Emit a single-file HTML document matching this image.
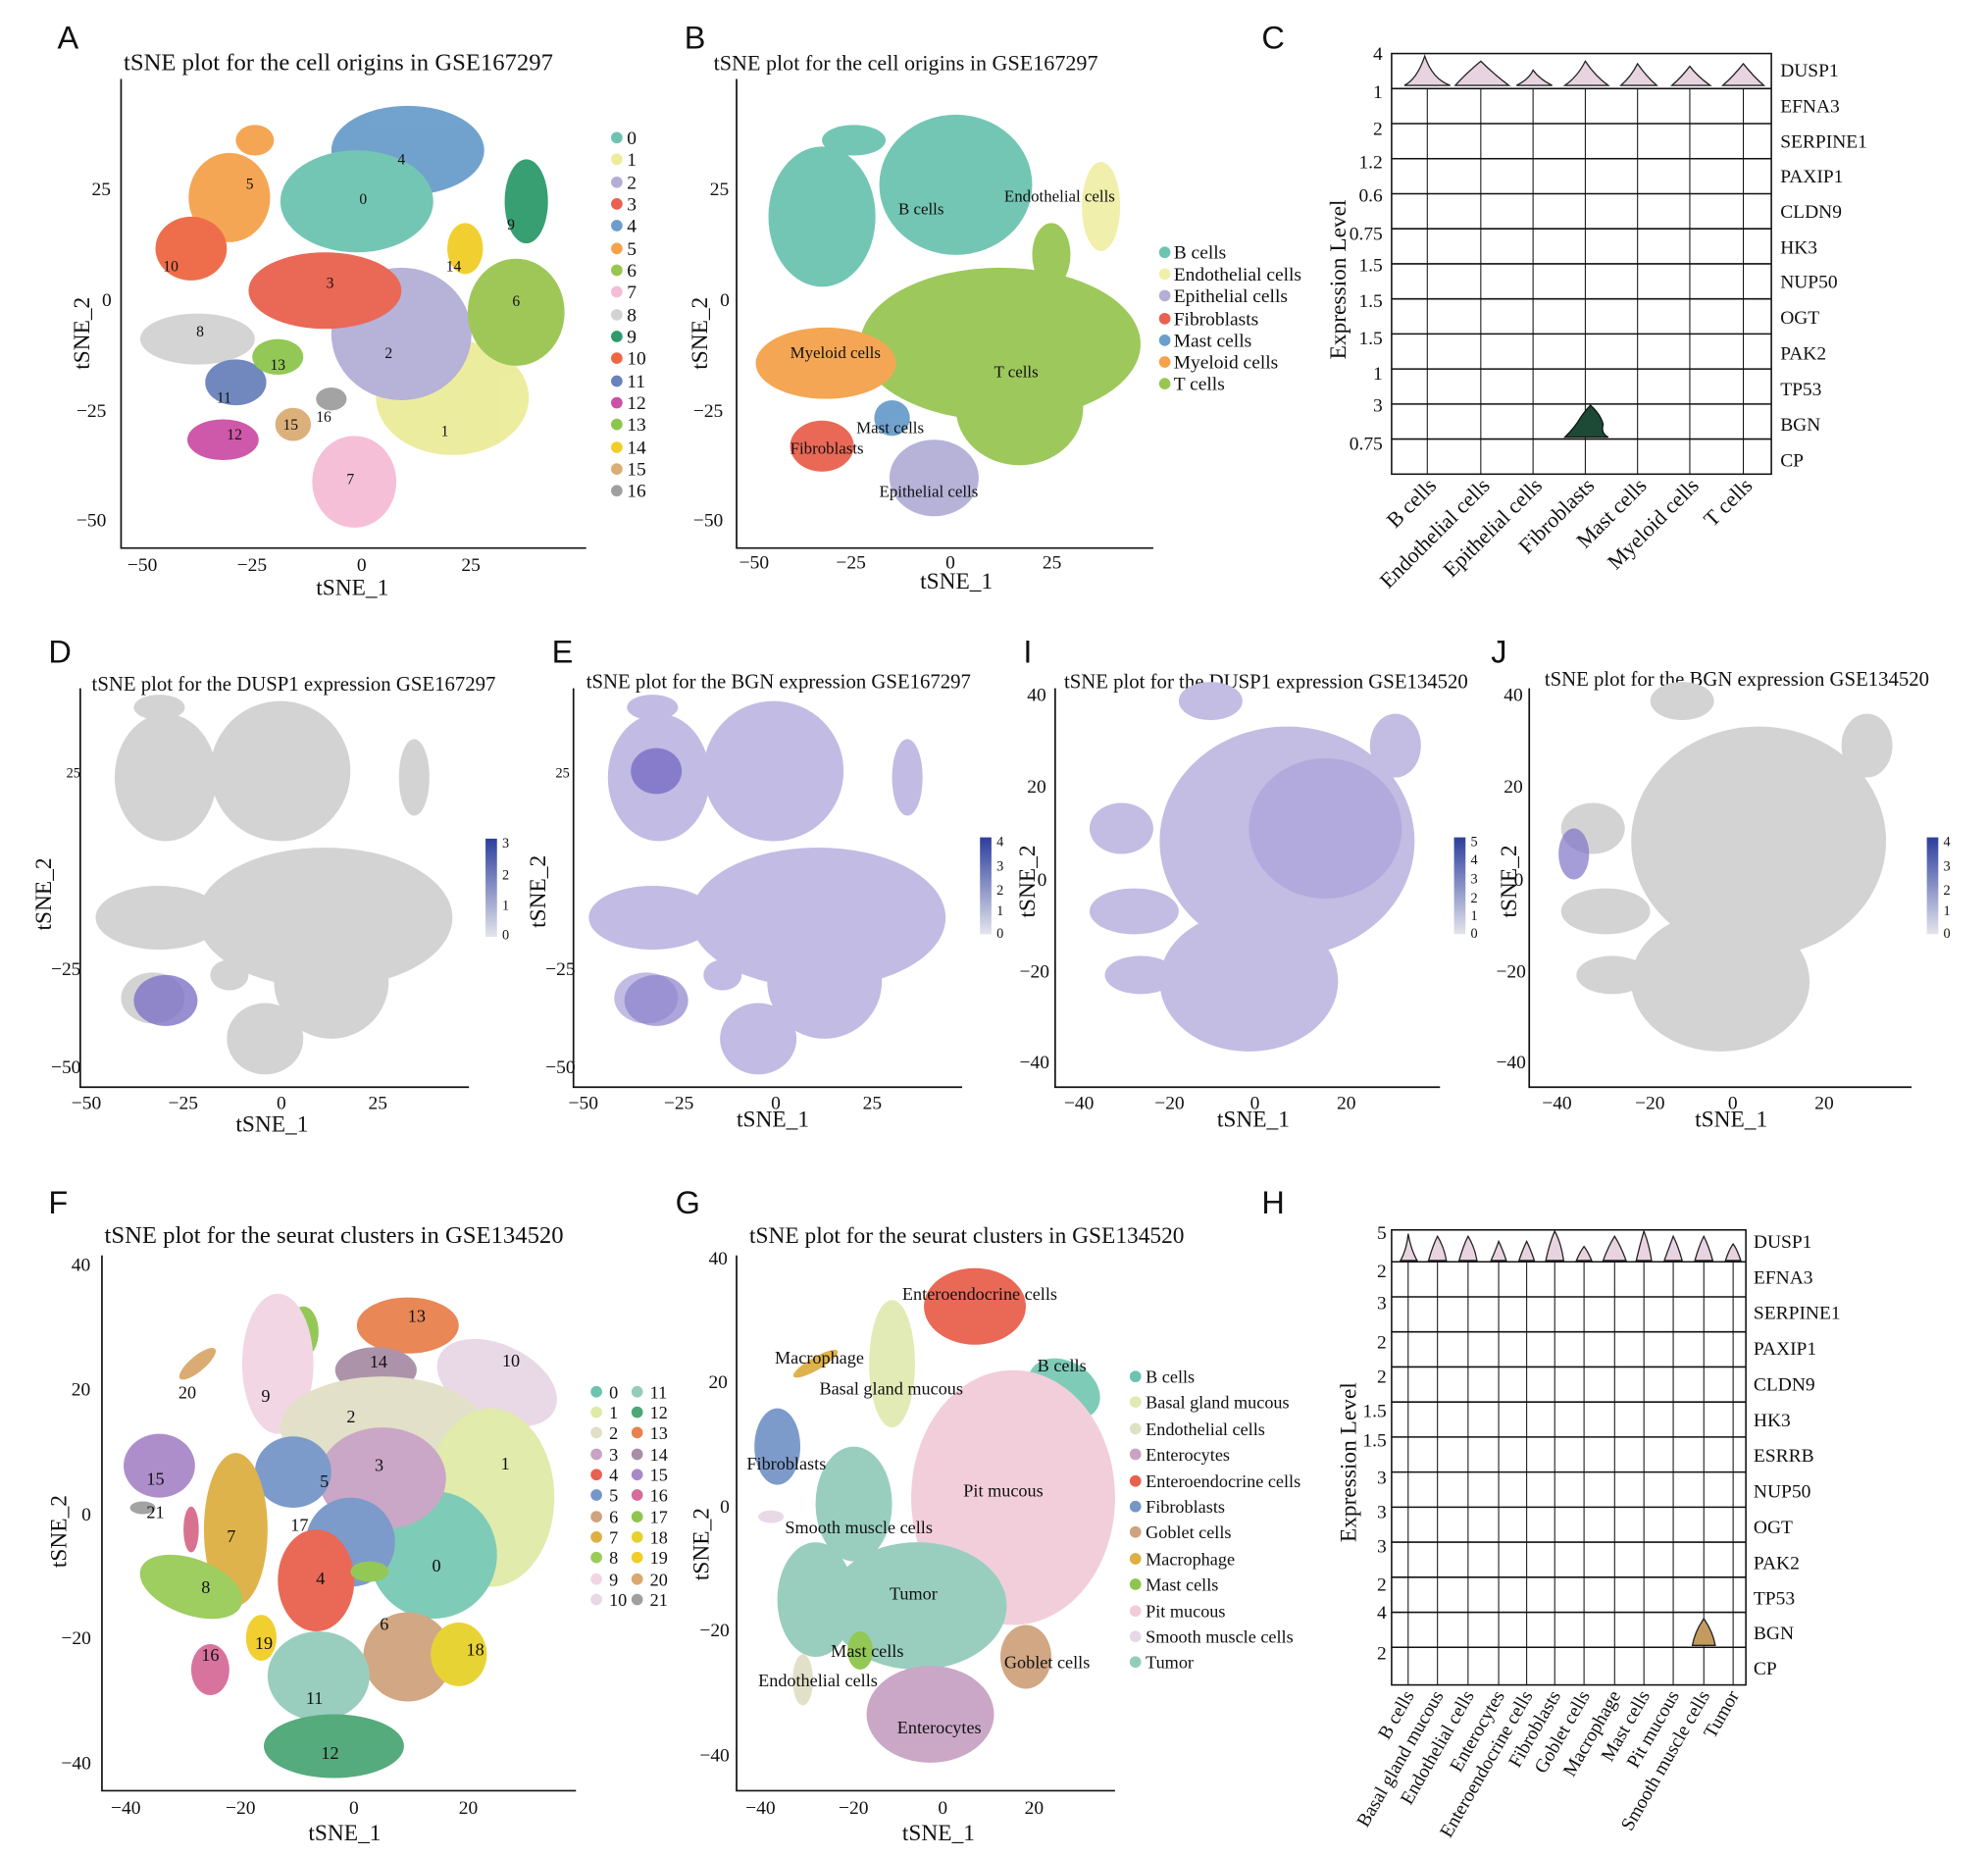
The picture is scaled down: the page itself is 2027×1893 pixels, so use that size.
<!DOCTYPE html>
<html><head><meta charset="utf-8"><style>
html,body{margin:0;padding:0;background:#fff}
svg{display:block}
text{font-family:"Liberation Serif",serif;fill:#111}
.t{font-size:19px}
.tk{font-size:15px}
.ax{font-size:18px}
.lg{font-size:15px}
.pl{font-family:"Liberation Sans",sans-serif;font-size:25px;fill:#111}
.n{font-family:"Liberation Sans",sans-serif;font-size:12px}
</style></head><body>
<svg width="2027" height="1893" viewBox="0 0 1560 1457" preserveAspectRatio="none" xmlns="http://www.w3.org/2000/svg">
<rect width="1560" height="1457" fill="#fff"/>
<g stroke="#111" fill="none" stroke-width="1.3">
<path d="M95 62V430H460"/><path d="M578 62V430H905"/>
<path d="M63 540V853H368"/><path d="M450 540V853H755"/><path d="M828 540V853H1130"/><path d="M1200 540V853H1500"/>
<path d="M80 985V1405H452"/><path d="M578 985V1405H875"/>
</g>
<text class="pl" x="45" y="38">A</text><text class="pl" x="537" y="38">B</text><text class="pl" x="990" y="38">C</text>
<text class="pl" x="38" y="520">D</text><text class="pl" x="433" y="520">E</text><text class="pl" x="803" y="520">I</text><text class="pl" x="1170" y="520">J</text>
<text class="pl" x="38" y="952">F</text><text class="pl" x="530" y="952">G</text><text class="pl" x="990" y="952">H</text>
<text class="t" x="97" y="55">tSNE plot for the cell origins in GSE167297</text>
<text class="t" x="560" y="55" style="font-size:17px">tSNE plot for the cell origins in GSE167297</text>
<text class="t" x="72" y="542" style="font-size:16px">tSNE plot for the DUSP1 expression GSE167297</text>
<text class="t" x="460" y="540" style="font-size:16px">tSNE plot for the BGN expression GSE167297</text>
<text class="t" x="835" y="540" style="font-size:16px">tSNE plot for the DUSP1 expression GSE134520</text>
<text class="t" x="1212" y="538" style="font-size:16px">tSNE plot for the BGN expression GSE134520</text>
<text class="t" x="82" y="975">tSNE plot for the seurat clusters in GSE134520</text>
<text class="t" x="588" y="975" style="font-size:18px">tSNE plot for the seurat clusters in GSE134520</text>

<!-- A -->
<g opacity="0.95">
<ellipse cx="320" cy="118" rx="60" ry="35" fill="#6a9ecc"/>
<ellipse cx="280" cy="158" rx="60" ry="40" fill="#6cc3b0"/>
<ellipse cx="355" cy="312" rx="60" ry="45" fill="#ecec9a"/>
<ellipse cx="315" cy="262" rx="55" ry="52" fill="#b3aed6"/>
<ellipse cx="255" cy="228" rx="60" ry="30" fill="#e9604e"/>
<ellipse cx="180" cy="155" rx="32" ry="35" fill="#f5a24b"/>
<ellipse cx="200" cy="110" rx="15" ry="12" fill="#f5a24b"/>
<ellipse cx="150" cy="195" rx="28" ry="25" fill="#ee6743"/>
<ellipse cx="405" cy="245" rx="38" ry="42" fill="#9ac54f"/>
<ellipse cx="413" cy="158" rx="17" ry="33" fill="#2d9a6c"/>
<ellipse cx="278" cy="378" rx="33" ry="36" fill="#f5bcd6"/>
<ellipse cx="155" cy="266" rx="45" ry="20" fill="#d2d2d2"/>
<ellipse cx="185" cy="300" rx="24" ry="18" fill="#6a82bb"/>
<ellipse cx="175" cy="345" rx="28" ry="16" fill="#cc50a5"/>
<ellipse cx="218" cy="280" rx="20" ry="14" fill="#8ec64d"/>
<ellipse cx="365" cy="195" rx="14" ry="20" fill="#f1cd25"/>
<ellipse cx="230" cy="333" rx="14" ry="13" fill="#dbac73"/>
<ellipse cx="260" cy="313" rx="12" ry="9" fill="#9f9f9f"/>
</g>
<g class="n"><text x="312" y="129">4</text><text x="282" y="160">0</text><text x="193" y="148">5</text><text x="128" y="213">10</text><text x="398" y="180">9</text><text x="350" y="213">14</text><text x="402" y="240">6</text><text x="256" y="226">3</text><text x="302" y="281">2</text><text x="154" y="264">8</text><text x="212" y="290">13</text><text x="170" y="316">11</text><text x="178" y="345">12</text><text x="222" y="337">15</text><text x="248" y="331">16</text><text x="346" y="342">1</text><text x="272" y="380">7</text></g>
<g class="tk"><text x="100" y="448">−50</text><text x="186" y="448">−25</text><text x="280" y="448">0</text><text x="362" y="448">25</text>
<text x="72" y="153">25</text><text x="80" y="240">0</text><text x="60" y="327">−25</text><text x="60" y="413">−50</text></g>
<text class="ax" x="248" y="467">tSNE_1</text>
<text class="ax" transform="translate(70,290) rotate(-90)">tSNE_2</text>
<g class="lg">
<g fill="#6cc3b0"><circle cx="484" cy="108" r="4.5"/></g><text x="492" y="113">0</text>
<circle cx="484" cy="125" r="4.5" fill="#ecec9a"/><text x="492" y="130">1</text>
<circle cx="484" cy="143" r="4.5" fill="#b3aed6"/><text x="492" y="148">2</text>
<circle cx="484" cy="160" r="4.5" fill="#e9604e"/><text x="492" y="165">3</text>
<circle cx="484" cy="177" r="4.5" fill="#6a9ecc"/><text x="492" y="182">4</text>
<circle cx="484" cy="195" r="4.5" fill="#f5a24b"/><text x="492" y="200">5</text>
<circle cx="484" cy="212" r="4.5" fill="#9ac54f"/><text x="492" y="217">6</text>
<circle cx="484" cy="229" r="4.5" fill="#f5bcd6"/><text x="492" y="234">7</text>
<circle cx="484" cy="247" r="4.5" fill="#d2d2d2"/><text x="492" y="252">8</text>
<circle cx="484" cy="264" r="4.5" fill="#2d9a6c"/><text x="492" y="269">9</text>
<circle cx="484" cy="281" r="4.5" fill="#ee6743"/><text x="492" y="286">10</text>
<circle cx="484" cy="299" r="4.5" fill="#6a82bb"/><text x="492" y="304">11</text>
<circle cx="484" cy="316" r="4.5" fill="#cc50a5"/><text x="492" y="321">12</text>
<circle cx="484" cy="333" r="4.5" fill="#8ec64d"/><text x="492" y="338">13</text>
<circle cx="484" cy="351" r="4.5" fill="#f1cd25"/><text x="492" y="356">14</text>
<circle cx="484" cy="368" r="4.5" fill="#dbac73"/><text x="492" y="373">15</text>
<circle cx="484" cy="385" r="4.5" fill="#9f9f9f"/><text x="492" y="390">16</text>
</g>

<!-- B -->
<g opacity="0.95">
<ellipse cx="750" cy="145" rx="60" ry="55" fill="#6cc3b0"/>
<ellipse cx="645" cy="170" rx="42" ry="55" fill="#6cc3b0"/>
<ellipse cx="670" cy="110" rx="25" ry="12" fill="#6cc3b0"/>
<ellipse cx="864" cy="162" rx="15" ry="35" fill="#f0f0a8"/>
<ellipse cx="785" cy="270" rx="110" ry="60" fill="#98c653"/>
<ellipse cx="800" cy="320" rx="50" ry="45" fill="#98c653"/>
<ellipse cx="825" cy="200" rx="15" ry="25" fill="#98c653"/>
<ellipse cx="648" cy="285" rx="55" ry="28" fill="#f5a24b"/>
<ellipse cx="645" cy="350" rx="25" ry="20" fill="#e9604e"/>
<ellipse cx="700" cy="328" rx="14" ry="14" fill="#6a9ecc"/>
<ellipse cx="733" cy="375" rx="35" ry="30" fill="#b3aed6"/>
</g>
<g style="font-size:13px"><text x="705" y="168">B cells</text><text x="788" y="158">Endothelial cells</text><text x="620" y="281">Myeloid cells</text><text x="780" y="296">T cells</text><text x="672" y="340">Mast cells</text><text x="620" y="356">Fibroblasts</text><text x="690" y="390">Epithelial cells</text></g>
<g class="tk"><text x="580" y="446">−50</text><text x="656" y="446">−25</text><text x="742" y="446">0</text><text x="818" y="446">25</text>
<text x="557" y="153">25</text><text x="565" y="240">0</text><text x="544" y="327">−25</text><text x="544" y="413">−50</text></g>
<text class="ax" x="722" y="462">tSNE_1</text>
<text class="ax" transform="translate(555,290) rotate(-90)">tSNE_2</text>
<g class="lg">
<circle cx="914" cy="198" r="4.5" fill="#6cc3b0"/><text x="921" y="203">B cells</text>
<circle cx="914" cy="215" r="4.5" fill="#f0f0a8"/><text x="921" y="220">Endothelial cells</text>
<circle cx="914" cy="232" r="4.5" fill="#b3aed6"/><text x="921" y="237">Epithelial cells</text>
<circle cx="914" cy="250" r="4.5" fill="#e9604e"/><text x="921" y="255">Fibroblasts</text>
<circle cx="914" cy="267" r="4.5" fill="#6a9ecc"/><text x="921" y="272">Mast cells</text>
<circle cx="914" cy="284" r="4.5" fill="#f5a24b"/><text x="921" y="289">Myeloid cells</text>
<circle cx="914" cy="301" r="4.5" fill="#98c653"/><text x="921" y="306">T cells</text>
</g>

<!-- C -->
<g stroke="#111" fill="none" stroke-width="1.2">
<rect x="1092" y="42" width="298" height="330"/>
<path d="M1092 69.5H1390M1092 97H1390M1092 124.5H1390M1092 152H1390M1092 179.5H1390M1092 207H1390M1092 234.5H1390M1092 262H1390M1092 289.5H1390M1092 317H1390M1092 344.5H1390"/>
<path d="M1120 69V372M1162 69V372M1203 69V372M1244 69V372M1285 69V372M1326 69V372M1368 69V372" stroke-width="0.8"/>
</g>
<g fill="#e8d4e0" stroke="#222" stroke-width="1">
<path d="M1102 67Q1112 62 1118 44Q1124 62 1138 67Z"/><path d="M1142 67Q1150 58 1162 48Q1172 58 1184 67Z"/><path d="M1190 67Q1200 62 1203 55Q1208 62 1218 67Z"/><path d="M1228 67Q1238 60 1244 48Q1252 60 1262 67Z"/><path d="M1272 67Q1280 60 1285 50Q1292 60 1300 67Z"/><path d="M1312 67Q1320 60 1326 52Q1332 60 1342 67Z"/><path d="M1352 67Q1360 60 1368 50Q1376 60 1384 67Z"/>
</g>
<path d="M1228 343Q1236 335 1240 328Q1244 322 1248 318Q1256 325 1258 333Q1256 340 1262 343Z" fill="#1c4a36" stroke="#111"/>
<g style="font-size:15px">
<text x="1397" y="60">DUSP1</text><text x="1397" y="88">EFNA3</text><text x="1397" y="116">SERPINE1</text><text x="1397" y="143">PAXIP1</text><text x="1397" y="171">CLDN9</text><text x="1397" y="199">HK3</text><text x="1397" y="226">NUP50</text><text x="1397" y="254">OGT</text><text x="1397" y="282">PAK2</text><text x="1397" y="310">TP53</text><text x="1397" y="338">BGN</text><text x="1397" y="366">CP</text>
</g>
<g class="tk" text-anchor="end">
<text x="1085" y="47">4</text><text x="1085" y="77">1</text><text x="1085" y="106">2</text><text x="1085" y="132">1.2</text><text x="1085" y="158">0.6</text><text x="1085" y="188">0.75</text><text x="1085" y="213">1.5</text><text x="1085" y="241">1.5</text><text x="1085" y="270">1.5</text><text x="1085" y="298">1</text><text x="1085" y="323">3</text><text x="1085" y="353">0.75</text>
</g>
<text class="ax" transform="translate(1056,282) rotate(-90)">Expression Level</text>
<g style="font-size:17px" text-anchor="end">
<text transform="translate(1128,382) rotate(-45)">B cells</text>
<text transform="translate(1170,382) rotate(-45)">Endothelial cells</text>
<text transform="translate(1211,382) rotate(-45)">Epithelial cells</text>
<text transform="translate(1252,382) rotate(-45)">Fibroblasts</text>
<text transform="translate(1293,382) rotate(-45)">Mast cells</text>
<text transform="translate(1334,382) rotate(-45)">Myeloid cells</text>
<text transform="translate(1376,382) rotate(-45)">T cells</text>
</g>

<!-- D / E gray-style blobs shapes -->
<defs>
<g id="s1">
<ellipse cx="0" cy="-60" rx="55" ry="55"/><ellipse cx="-90" cy="-55" rx="40" ry="50"/><ellipse cx="-95" cy="-110" rx="20" ry="10"/>
<ellipse cx="105" cy="-55" rx="12" ry="30"/><ellipse cx="35" cy="55" rx="100" ry="55"/><ellipse cx="40" cy="105" rx="45" ry="45"/>
<ellipse cx="-95" cy="55" rx="50" ry="25"/><ellipse cx="-100" cy="118" rx="25" ry="20"/><ellipse cx="-40" cy="100" rx="15" ry="12"/><ellipse cx="-12" cy="150" rx="30" ry="28"/>
</g>
<g id="s2">
<ellipse cx="20" cy="-20" rx="100" ry="90"/><ellipse cx="-10" cy="90" rx="70" ry="55"/><ellipse cx="-110" cy="-30" rx="25" ry="20"/>
<ellipse cx="-100" cy="35" rx="35" ry="18"/><ellipse cx="-95" cy="85" rx="28" ry="15"/><ellipse cx="-40" cy="-130" rx="25" ry="15"/><ellipse cx="105" cy="-95" rx="20" ry="25"/>
</g>
</defs>
<g fill="#d3d3d3"><use href="#s1" x="220" y="665"/></g>
<ellipse cx="130" cy="785" rx="25" ry="20" fill="#7d73c7" opacity="0.8"/>
<g fill="#c2bbe3"><use href="#s1" x="607" y="665"/></g>
<ellipse cx="515" cy="605" rx="20" ry="18" fill="#6d61c0" opacity="0.7"/><ellipse cx="515" cy="785" rx="25" ry="20" fill="#8a80cc" opacity="0.7"/>
<g fill="#c3bce3"><use href="#s2" x="990" y="680"/></g>
<ellipse cx="1040" cy="650" rx="60" ry="55" fill="#aba2da" opacity="0.7"/>
<g fill="#d3d3d3"><use href="#s2" x="1360" y="680"/></g>
<ellipse cx="1235" cy="670" rx="12" ry="20" fill="#7d73c7" opacity="0.7"/>
<g class="tk">
<text x="56" y="870">−50</text><text x="132" y="870">−25</text><text x="217" y="870">0</text><text x="289" y="870">25</text>
<text x="40" y="765">−25</text><text x="40" y="842">−50</text><text x="52" y="610" style="font-size:11px">25</text>
<text x="446" y="870">−50</text><text x="521" y="870">−25</text><text x="605" y="870">0</text><text x="677" y="870">25</text>
<text x="428" y="765">−25</text><text x="428" y="842">−50</text><text x="436" y="610" style="font-size:11px">25</text>
<text x="835" y="870">−40</text><text x="906" y="870">−20</text><text x="981" y="870">0</text><text x="1049" y="870">20</text>
<text x="806" y="550">40</text><text x="806" y="622">20</text><text x="814" y="695">0</text><text x="800" y="767">−20</text><text x="800" y="838">−40</text>
<text x="1210" y="870">−40</text><text x="1283" y="870">−20</text><text x="1356" y="870">0</text><text x="1424" y="870">20</text>
<text x="1180" y="550">40</text><text x="1180" y="622">20</text><text x="1188" y="695">0</text><text x="1174" y="767">−20</text><text x="1174" y="838">−40</text>
</g>
<text class="ax" x="185" y="888">tSNE_1</text><text class="ax" x="578" y="884">tSNE_1</text><text class="ax" x="955" y="884">tSNE_1</text><text class="ax" x="1330" y="884">tSNE_1</text>
<text class="ax" transform="translate(40,730) rotate(-90)">tSNE_2</text><text class="ax" transform="translate(428,728) rotate(-90)">tSNE_2</text>
<text class="ax" transform="translate(812,720) rotate(-90)">tSNE_2</text><text class="ax" transform="translate(1190,720) rotate(-90)">tSNE_2</text>
<defs><linearGradient id="cb" x1="0" y1="1" x2="0" y2="0"><stop offset="0" stop-color="#e4e4ec"/><stop offset="1" stop-color="#2c3e9e"/></linearGradient></defs>
<rect x="381" y="658" width="9" height="77" fill="url(#cb)"/><rect x="769" y="657" width="9" height="76" fill="url(#cb)"/><rect x="1141" y="657" width="9" height="76" fill="url(#cb)"/><rect x="1512" y="657" width="9" height="76" fill="url(#cb)"/>
<g style="font-size:11px">
<text x="394" y="665">3</text><text x="394" y="690">2</text><text x="394" y="714">1</text><text x="394" y="737">0</text>
<text x="782" y="664">4</text><text x="782" y="683">3</text><text x="782" y="702">2</text><text x="782" y="718">1</text><text x="782" y="736">0</text>
<text x="1154" y="664">5</text><text x="1154" y="678">4</text><text x="1154" y="693">3</text><text x="1154" y="708">2</text><text x="1154" y="722">1</text><text x="1154" y="736">0</text>
<text x="1525" y="664">4</text><text x="1525" y="683">3</text><text x="1525" y="702">2</text><text x="1525" y="718">1</text><text x="1525" y="736">0</text>
</g>

<!-- F -->
<g opacity="0.95">
<ellipse cx="320" cy="1040" rx="40" ry="22" fill="#e8814e"/>
<ellipse cx="295" cy="1075" rx="32" ry="18" fill="#a98ea6"/>
<ellipse cx="238" cy="1045" rx="12" ry="20" fill="#8ec64d"/>
<ellipse cx="390" cy="1085" rx="50" ry="30" fill="#e8d8e6" transform="rotate(25 390 1085)"/>
<ellipse cx="218" cy="1070" rx="28" ry="55" fill="#f2d4e2"/>
<ellipse cx="300" cy="1120" rx="80" ry="40" fill="#e1dfc6"/>
<ellipse cx="385" cy="1175" rx="50" ry="70" fill="#dfeaa8"/>
<ellipse cx="340" cy="1220" rx="50" ry="50" fill="#78c9b5"/>
<ellipse cx="300" cy="1160" rx="50" ry="40" fill="#c8a3c3"/>
<ellipse cx="275" cy="1210" rx="35" ry="35" fill="#7796c8"/>
<ellipse cx="230" cy="1155" rx="30" ry="28" fill="#7796c8"/>
<ellipse cx="185" cy="1200" rx="25" ry="60" fill="#deaf42"/>
<ellipse cx="248" cy="1240" rx="30" ry="40" fill="#e9604e"/>
<ellipse cx="320" cy="1300" rx="35" ry="35" fill="#cfa37e"/>
<ellipse cx="250" cy="1315" rx="40" ry="35" fill="#94ccbc"/>
<ellipse cx="262" cy="1370" rx="55" ry="25" fill="#4ca776"/>
<ellipse cx="360" cy="1298" rx="22" ry="25" fill="#e7d12a"/>
<ellipse cx="150" cy="1245" rx="42" ry="22" fill="#99cb58" transform="rotate(20 150 1245)"/>
<ellipse cx="205" cy="1285" rx="12" ry="18" fill="#f1cd25"/>
<ellipse cx="165" cy="1310" rx="15" ry="20" fill="#d66c99"/>
<ellipse cx="125" cy="1150" rx="28" ry="25" fill="#a988c9"/>
<ellipse cx="155" cy="1070" rx="18" ry="6" fill="#d9a86c" transform="rotate(-40 155 1070)"/>
<ellipse cx="112" cy="1183" rx="10" ry="5" fill="#9f9f9f"/>
<ellipse cx="150" cy="1200" rx="6" ry="18" fill="#d86a8c"/>
<ellipse cx="290" cy="1233" rx="15" ry="8" fill="#8ec64d"/>
</g>
<g class="n" style="font-size:14px"><text x="320" y="1037">13</text><text x="290" y="1073">14</text><text x="394" y="1072">10</text><text x="205" y="1100">9</text><text x="140" y="1097">20</text><text x="272" y="1116">2</text><text x="294" y="1154">3</text><text x="251" y="1167">5</text><text x="393" y="1153">1</text><text x="115" y="1165">15</text><text x="115" y="1191">21</text><text x="228" y="1201">17</text><text x="178" y="1210">7</text><text x="339" y="1233">0</text><text x="248" y="1243">4</text><text x="158" y="1250">8</text><text x="298" y="1279">6</text><text x="200" y="1294">19</text><text x="366" y="1299">18</text><text x="158" y="1303">16</text><text x="240" y="1337">11</text><text x="252" y="1380">12</text></g>
<g class="tk">
<text x="87" y="1423">−40</text><text x="177" y="1423">−20</text><text x="274" y="1423">0</text><text x="360" y="1423">20</text>
<text x="56" y="997">40</text><text x="56" y="1095">20</text><text x="64" y="1193">0</text><text x="48" y="1290">−20</text><text x="48" y="1388">−40</text>
</g>
<text class="ax" x="242" y="1444">tSNE_1</text><text class="ax" transform="translate(52,1230) rotate(-90)">tSNE_2</text>
<g class="lg" style="font-size:14px">
<circle cx="468" cy="1092" r="4.5" fill="#6cc3b0"/><text x="478" y="1097">0</text>
<circle cx="468" cy="1108" r="4.5" fill="#dfeaa8"/><text x="478" y="1113">1</text>
<circle cx="468" cy="1124" r="4.5" fill="#e1dfc6"/><text x="478" y="1129">2</text>
<circle cx="468" cy="1141" r="4.5" fill="#c8a3c3"/><text x="478" y="1146">3</text>
<circle cx="468" cy="1157" r="4.5" fill="#e9604e"/><text x="478" y="1162">4</text>
<circle cx="468" cy="1173" r="4.5" fill="#7796c8"/><text x="478" y="1178">5</text>
<circle cx="468" cy="1190" r="4.5" fill="#cfa37e"/><text x="478" y="1195">6</text>
<circle cx="468" cy="1206" r="4.5" fill="#deaf42"/><text x="478" y="1211">7</text>
<circle cx="468" cy="1222" r="4.5" fill="#99cb58"/><text x="478" y="1227">8</text>
<circle cx="468" cy="1239" r="4.5" fill="#f2d4e2"/><text x="478" y="1244">9</text>
<circle cx="468" cy="1255" r="4.5" fill="#e8d8e6"/><text x="478" y="1260">10</text>
<circle cx="500" cy="1092" r="4.5" fill="#94ccbc"/><text x="510" y="1097">11</text>
<circle cx="500" cy="1108" r="4.5" fill="#4ca776"/><text x="510" y="1113">12</text>
<circle cx="500" cy="1124" r="4.5" fill="#e8814e"/><text x="510" y="1129">13</text>
<circle cx="500" cy="1141" r="4.5" fill="#a98ea6"/><text x="510" y="1146">14</text>
<circle cx="500" cy="1157" r="4.5" fill="#a988c9"/><text x="510" y="1162">15</text>
<circle cx="500" cy="1173" r="4.5" fill="#d66c99"/><text x="510" y="1178">16</text>
<circle cx="500" cy="1190" r="4.5" fill="#8ec64d"/><text x="510" y="1195">17</text>
<circle cx="500" cy="1206" r="4.5" fill="#e7d12a"/><text x="510" y="1211">18</text>
<circle cx="500" cy="1222" r="4.5" fill="#f1cd25"/><text x="510" y="1227">19</text>
<circle cx="500" cy="1239" r="4.5" fill="#d9a86c"/><text x="510" y="1244">20</text>
<circle cx="500" cy="1255" r="4.5" fill="#9f9f9f"/><text x="510" y="1260">21</text>
</g>

<!-- G -->
<g opacity="0.95">
<ellipse cx="765" cy="1025" rx="40" ry="30" fill="#e9604e"/>
<ellipse cx="835" cy="1090" rx="30" ry="22" fill="#78c9b5" transform="rotate(30 835 1090)"/>
<ellipse cx="795" cy="1175" rx="80" ry="100" fill="#f2ccd9"/>
<ellipse cx="700" cy="1070" rx="18" ry="50" fill="#e1eab2"/>
<ellipse cx="670" cy="1180" rx="30" ry="45" fill="#94ccbc"/>
<ellipse cx="720" cy="1260" rx="70" ry="50" fill="#94ccbc"/>
<ellipse cx="640" cy="1255" rx="30" ry="45" fill="#94ccbc"/>
<ellipse cx="610" cy="1135" rx="18" ry="30" fill="#7796c8"/>
<ellipse cx="640" cy="1070" rx="20" ry="5" fill="#deaf42" transform="rotate(-30 640 1070)"/>
<ellipse cx="805" cy="1300" rx="20" ry="25" fill="#cfa37e"/>
<ellipse cx="730" cy="1345" rx="50" ry="38" fill="#c8a3c3"/>
<ellipse cx="675" cy="1295" rx="10" ry="15" fill="#8ec64d"/>
<ellipse cx="630" cy="1318" rx="8" ry="20" fill="#e1dfc6"/>
<ellipse cx="605" cy="1190" rx="10" ry="5" fill="#e8d8e6"/>
</g>
<g style="font-size:14px"><text x="708" y="1020">Enteroendocrine cells</text><text x="608" y="1070">Macrophage</text><text x="814" y="1076">B cells</text><text x="643" y="1094">Basal gland mucous</text><text x="586" y="1153">Fibroblasts</text><text x="756" y="1174">Pit mucous</text><text x="616" y="1203">Smooth muscle cells</text><text x="698" y="1255">Tumor</text><text x="652" y="1300">Mast cells</text><text x="788" y="1309">Goblet cells</text><text x="595" y="1323">Endothelial cells</text><text x="704" y="1360">Enterocytes</text></g>
<g class="tk">
<text x="585" y="1423">−40</text><text x="658" y="1423">−20</text><text x="736" y="1423">0</text><text x="804" y="1423">20</text>
<text x="556" y="992">40</text><text x="556" y="1089">20</text><text x="565" y="1187">0</text><text x="549" y="1284">−20</text><text x="549" y="1382">−40</text>
</g>
<text class="ax" x="708" y="1444">tSNE_1</text><text class="ax" transform="translate(556,1240) rotate(-90)">tSNE_2</text>
<g class="lg" style="font-size:14px">
<circle cx="891" cy="1080" r="4.5" fill="#6cc3b0"/><text x="899" y="1085">B cells</text>
<circle cx="891" cy="1100" r="4.5" fill="#e1eab2"/><text x="899" y="1105">Basal gland mucous</text>
<circle cx="891" cy="1121" r="4.5" fill="#e1dfc6"/><text x="899" y="1126">Endothelial cells</text>
<circle cx="891" cy="1141" r="4.5" fill="#c8a3c3"/><text x="899" y="1146">Enterocytes</text>
<circle cx="891" cy="1162" r="4.5" fill="#e9604e"/><text x="899" y="1167">Enteroendocrine cells</text>
<circle cx="891" cy="1182" r="4.5" fill="#7796c8"/><text x="899" y="1187">Fibroblasts</text>
<circle cx="891" cy="1202" r="4.5" fill="#cfa37e"/><text x="899" y="1207">Goblet cells</text>
<circle cx="891" cy="1223" r="4.5" fill="#deaf42"/><text x="899" y="1228">Macrophage</text>
<circle cx="891" cy="1243" r="4.5" fill="#8ec64d"/><text x="899" y="1248">Mast cells</text>
<circle cx="891" cy="1264" r="4.5" fill="#f2ccd9"/><text x="899" y="1269">Pit mucous</text>
<circle cx="891" cy="1284" r="4.5" fill="#e8d8e6"/><text x="899" y="1289">Smooth muscle cells</text>
<circle cx="891" cy="1304" r="4.5" fill="#94ccbc"/><text x="899" y="1309">Tumor</text>
</g>

<!-- H -->
<g stroke="#111" fill="none" stroke-width="1.2">
<rect x="1092" y="965" width="278" height="357"/>
<path d="M1092 990H1370M1092 1017.5H1370M1092 1045H1370M1092 1072.5H1370M1092 1100H1370M1092 1127.5H1370M1092 1155H1370M1092 1182.5H1370M1092 1210H1370M1092 1237.5H1370M1092 1265H1370M1092 1292.5H1370"/>
<path d="M1105 990V1322M1128 990V1322M1152 990V1322M1176 990V1322M1198 990V1322M1220 990V1322M1243 990V1322M1267 990V1322M1290 990V1322M1313 990V1322M1337 990V1322M1360 990V1322" stroke-width="0.8"/>
</g>
<g fill="#e8d4e0" stroke="#222" stroke-width="1">
<path d="M1099 989Q1104 980 1105 968Q1107 980 1112 989Z"/><path d="M1121 989Q1124 978 1128 970Q1133 978 1135 989Z"/><path d="M1145 989Q1148 978 1152 970Q1157 978 1159 989Z"/><path d="M1170 989Q1174 980 1176 974Q1179 980 1182 989Z"/><path d="M1192 989Q1195 980 1198 974Q1201 980 1204 989Z"/><path d="M1213 989Q1216 975 1220 966Q1225 975 1227 989Z"/><path d="M1237 989Q1240 982 1243 978Q1246 982 1249 989Z"/><path d="M1258 989Q1262 978 1267 970Q1272 978 1276 989Z"/><path d="M1284 989Q1287 976 1290 966Q1294 976 1296 989Z"/><path d="M1306 989Q1310 978 1313 970Q1317 978 1320 989Z"/><path d="M1330 989Q1333 978 1337 970Q1341 978 1344 989Z"/><path d="M1354 989Q1357 980 1360 976Q1363 980 1366 989Z"/>
</g>
<path d="M1328 1291Q1330 1280 1337 1270Q1344 1280 1346 1291Z" fill="#c49a5f" stroke="#222"/>
<g style="font-size:15px">
<text x="1376" y="979">DUSP1</text><text x="1376" y="1007">EFNA3</text><text x="1376" y="1035">SERPINE1</text><text x="1376" y="1063">PAXIP1</text><text x="1376" y="1091">CLDN9</text><text x="1376" y="1119">HK3</text><text x="1376" y="1147">ESRRB</text><text x="1376" y="1175">NUP50</text><text x="1376" y="1203">OGT</text><text x="1376" y="1231">PAK2</text><text x="1376" y="1259">TP53</text><text x="1376" y="1286">BGN</text><text x="1376" y="1314">CP</text>
</g>
<g class="tk" text-anchor="end">
<text x="1088" y="972">5</text><text x="1088" y="1002">2</text><text x="1088" y="1027">3</text><text x="1088" y="1058">2</text><text x="1088" y="1085">2</text><text x="1088" y="1112">1.5</text><text x="1088" y="1135">1.5</text><text x="1088" y="1164">3</text><text x="1088" y="1191">3</text><text x="1088" y="1218">3</text><text x="1088" y="1248">2</text><text x="1088" y="1270">4</text><text x="1088" y="1302">2</text>
</g>
<text class="ax" transform="translate(1064,1210) rotate(-90)">Expression Level</text>
<g style="font-size:15px" text-anchor="end">
<text transform="translate(1110,1330) rotate(-60)">B cells</text>
<text transform="translate(1133,1330) rotate(-60)">Basal gland mucous</text>
<text transform="translate(1157,1330) rotate(-60)">Endothelial cells</text>
<text transform="translate(1181,1330) rotate(-60)">Enterocytes</text>
<text transform="translate(1203,1330) rotate(-60)">Enteroendocrine cells</text>
<text transform="translate(1225,1330) rotate(-60)">Fibroblasts</text>
<text transform="translate(1248,1330) rotate(-60)">Goblet cells</text>
<text transform="translate(1272,1330) rotate(-60)">Macrophage</text>
<text transform="translate(1295,1330) rotate(-60)">Mast cells</text>
<text transform="translate(1318,1330) rotate(-60)">Pit mucous</text>
<text transform="translate(1342,1330) rotate(-60)">Smooth muscle cells</text>
<text transform="translate(1365,1330) rotate(-60)">Tumor</text>
</g>
</svg>
</body></html>
